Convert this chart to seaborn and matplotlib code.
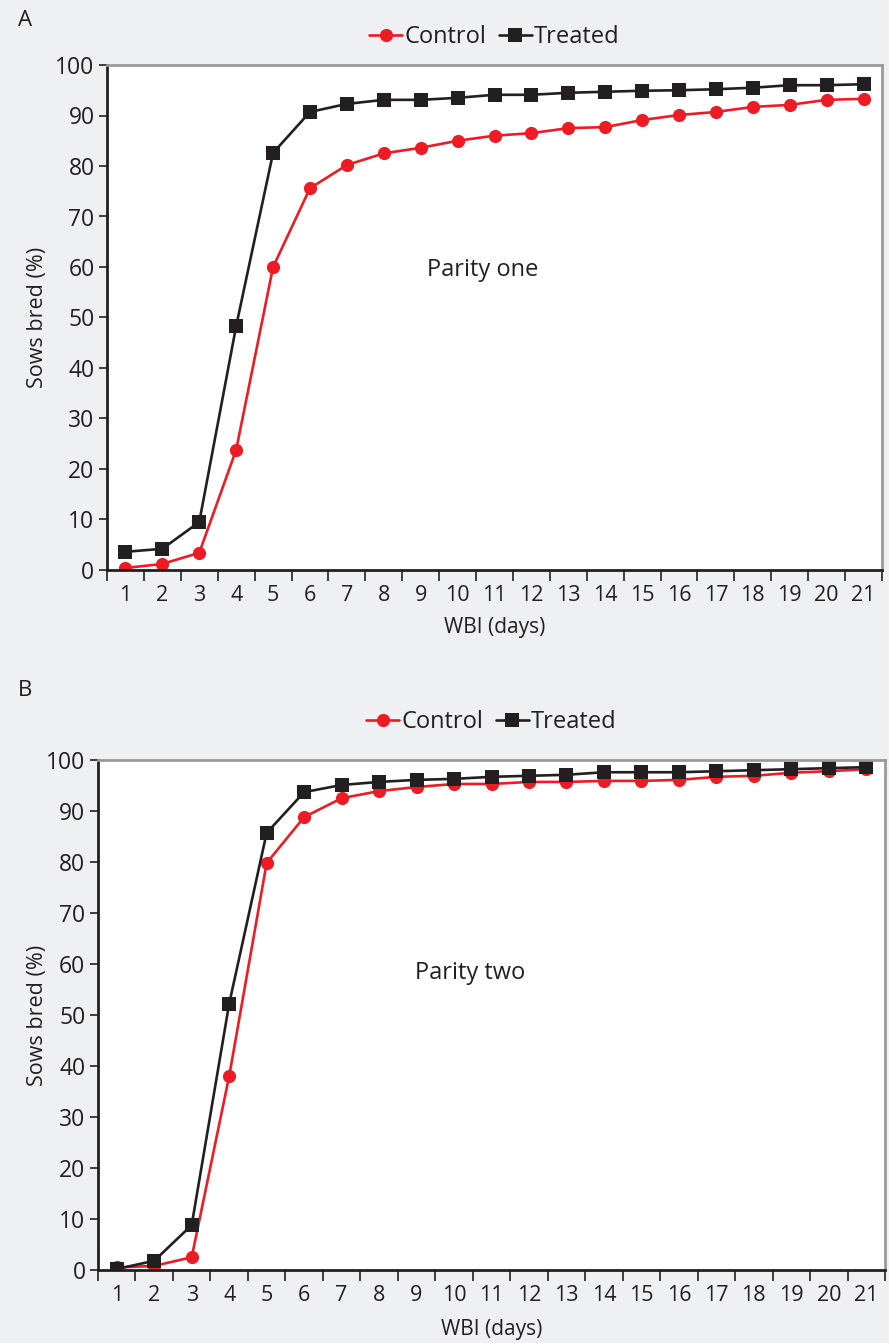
import numpy as np
import pandas as pd
import matplotlib
matplotlib.use("Agg")
import matplotlib.pyplot as plt
import seaborn as sns

days = list(range(1, 22))

# Parity one (panel A)
control_a = [0.4, 1.2, 3.4, 23.8, 60.0, 75.6, 80.2, 82.5, 83.6, 85.0, 86.0, 86.5,
             87.5, 87.7, 89.1, 90.1, 90.7, 91.7, 92.1, 93.1, 93.3]
treated_a = [3.6, 4.2, 9.5, 48.3, 82.6, 90.7, 92.3, 93.1, 93.1, 93.5, 94.1, 94.1,
             94.5, 94.7, 94.9, 95.0, 95.2, 95.5, 96.0, 96.0, 96.2]

# Parity two (panel B)
control_b = [0.5, 0.8, 2.5, 38.0, 79.8, 88.8, 92.5, 93.9, 94.7, 95.3, 95.3, 95.7,
             95.7, 95.9, 95.9, 96.1, 96.7, 96.9, 97.5, 97.8, 98.2]
treated_b = [0.2, 1.8, 8.8, 52.2, 85.7, 93.7, 95.1, 95.7, 96.1, 96.3, 96.7, 96.9,
             97.1, 97.6, 97.6, 97.6, 97.8, 98.0, 98.2, 98.4, 98.6]

panels = [
    ("A", "Parity one", control_a, treated_a),
    ("B", "Parity two", control_b, treated_b),
]

sns.set_theme(style="white")
plt.rcParams['font.family'] = ['Open Sans', 'DejaVu Sans']

BG = '#eff0f2'
RED = '#ed1c24'
BLACK = '#231f20'

fig = plt.figure(figsize=(8.89, 13.43), dpi=100, facecolor=BG)
W, H = 889.0, 1343.0
# axes boxes in pixels: left, top, right, bottom
boxes = [(107, 65, 882, 570), (98, 760, 885, 1270)]
label_y = [20, 690]
legend_y = [37, 722]
xlabel_y = [628, 1330]
note_xy = [(483, 270), (470, 973)]

for (letter, note, ctrl, trt), (l, t, r, b), ly, lgy, xly, (nx, ny) in zip(
        panels, boxes, label_y, legend_y, xlabel_y, note_xy):
    ax = fig.add_axes([l / W, 1 - b / H, (r - l) / W, (b - t) / H])
    ax.set_facecolor('white')
    df = pd.DataFrame({
        'day': days * 2,
        'pct': ctrl + trt,
        'group': ['Control'] * len(days) + ['Treated'] * len(days),
    })
    sns.lineplot(data=df, x='day', y='pct', hue='group', style='group',
                 markers={'Control': 'o', 'Treated': 's'}, dashes=False,
                 palette={'Control': RED, 'Treated': BLACK},
                 markersize=9.5, markeredgewidth=0, linewidth=1.9, ax=ax)
    ax.set_xlim(0.5, 21.5)
    ax.set_ylim(0, 100)
    ax.set_xticks(days)
    ax.set_xticks(np.arange(0.5, 22, 1), minor=True)
    ax.set_yticks(range(0, 101, 10))
    ax.tick_params(axis='x', which='major', length=0, pad=11, labelsize=15.5, colors=BLACK)
    ax.tick_params(axis='x', which='minor', length=8, width=1.2, direction='out',
                   color=BLACK, bottom=True)
    ax.tick_params(axis='y', length=6, width=1.2, direction='out', left=True,
                   pad=3, labelsize=16.5, colors=BLACK)
    for s in ['left', 'bottom']:
        ax.spines[s].set_color(BLACK)
        ax.spines[s].set_linewidth(2)
    for s in ['top', 'right']:
        ax.spines[s].set_color('#9a9a9a')
        ax.spines[s].set_linewidth(2)
    ax.set_xlabel('WBI (days)', fontsize=15, color=BLACK)
    ax.xaxis.set_label_coords(0.5, -(xly - b) / (b - t))
    ax.xaxis.label.set_verticalalignment('center')
    ax.set_ylabel('Sows bred (%)', fontsize=15.5, color=BLACK)
    ax.yaxis.set_label_coords(-(l - 37) / (r - l), 0.5)
    ax.yaxis.label.set_verticalalignment('center')
    ax.text((nx - l) / (r - l), (b - ny) / (b - t), note, transform=ax.transAxes,
            ha='center', va='center', fontsize=17, color=BLACK)
    leg = ax.legend(loc='center', bbox_to_anchor=(0.5, 1 + (t - lgy) / (b - t)),
                    ncol=2, frameon=False, fontsize=17, handlelength=1.4,
                    handletextpad=0.1, columnspacing=0.5)
    for txt in leg.get_texts():
        txt.set_color(BLACK)
    fig.text(18 / W, 1 - ly / H, letter, fontsize=16, color=BLACK,
             ha='left', va='center')

fig.savefig('out.png', dpi=100, facecolor=BG)
